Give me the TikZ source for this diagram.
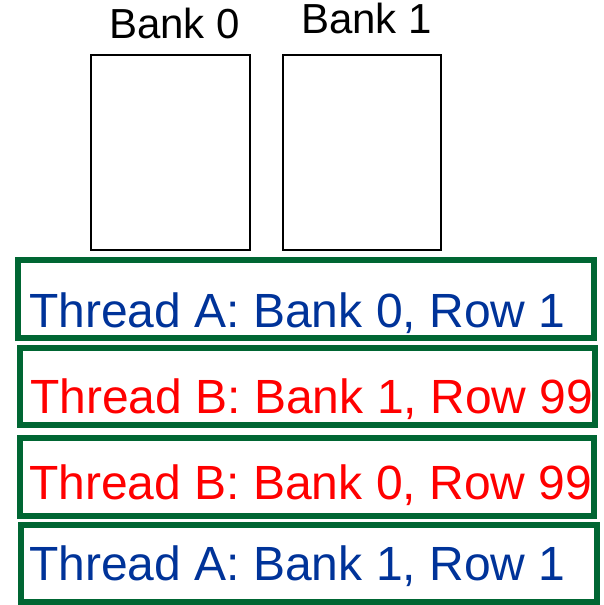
\documentclass[tikz,border=0pt]{standalone}
\usepackage{fontspec}
\setmainfont{Liberation Sans}
\definecolor{boxgreen}{RGB}{0,102,51}
\definecolor{threadblue}{RGB}{0,51,153}
\definecolor{threadred}{RGB}{255,0,0}
\begin{document}
\begin{tikzpicture}[x=1bp,y=-1bp,
  bankbox/.style={draw=black,line width=2bp,inner sep=0pt,outer sep=0pt},
  banklabel/.style={anchor=base west,inner sep=0pt,font=\fontsize{42bp}{46bp}\selectfont},
  reqbox/.style={draw=boxgreen,line width=6bp,inner sep=0pt,outer sep=0pt},
  reqlabel/.style={anchor=base west,inner sep=0pt,font=\fontsize{48bp}{52bp}\selectfont}]
\useasboundingbox (0,0) rectangle (604,605);
% banks
\node[bankbox,minimum width=159.2bp,minimum height=194.7bp] (b0) at (170.1,152.35) {};
\node[bankbox,minimum width=158.3bp,minimum height=194.7bp] (b1) at (361.85,152.35) {};
\node[banklabel] (l0) at (109,39) {Bank 0};
\node[banklabel] (l1) at (301,33.5) {Bank 1};
% requests
\node[reqbox,minimum width=576bp,minimum height=78bp] (r1) at (306,299) {};
\node[reqbox,minimum width=575bp,minimum height=77bp] (r2) at (307.5,386.5) {};
\node[reqbox,minimum width=574.3bp,minimum height=78bp] (r3) at (306.85,477) {};
\node[reqbox,minimum width=575.7bp,minimum height=77bp] (r4) at (309.15,563.5) {};
\node[reqlabel,text=threadblue] (t1) at (29,327) {Thread A: Bank 0, Row 1};
\node[reqlabel,text=threadred] (t2) at (30,413) {Thread B: Bank 1, Row 99};
\node[reqlabel,text=threadred] (t3) at (29,499.5) {Thread B: Bank 0, Row 99};
\node[reqlabel,text=threadblue] (t4) at (29,580.5) {Thread A: Bank 1, Row 1};
\end{tikzpicture}
\end{document}
